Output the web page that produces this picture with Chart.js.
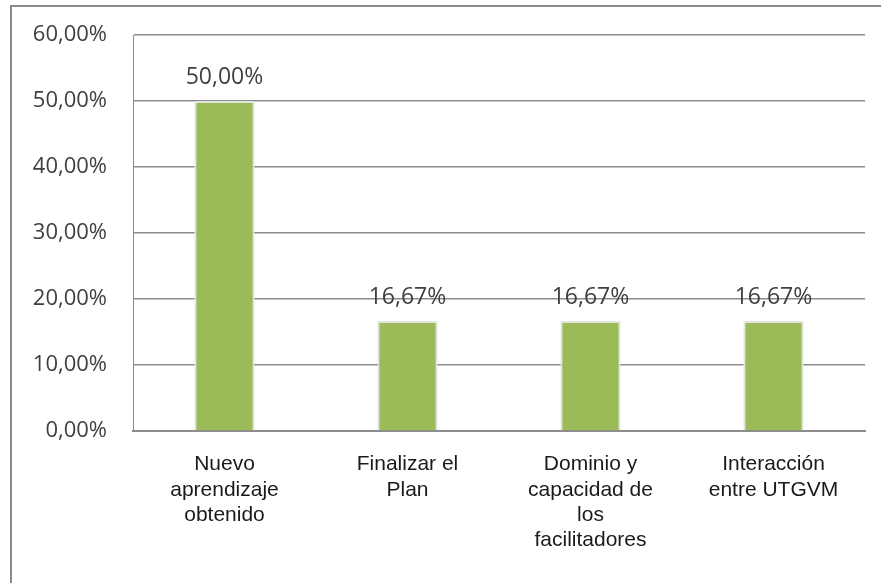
<!DOCTYPE html>
<html>
<head>
<meta charset="utf-8">
<script src="https://cdn.jsdelivr.net/npm/chart.js@4.4.0/dist/chart.umd.min.js"></script>
<style>
  html, body { margin: 0; padding: 0; background: #fff; }
  #wrap { width: 881px; height: 583px; }
</style>
</head>
<body>
<div id="wrap"><canvas id="grafico" width="881" height="583"></canvas></div>
<script>
const categorias = [
  ["Nuevo", "aprendizaje", "obtenido"],
  ["Finalizar el", "Plan"],
  ["Dominio y", "capacidad de", "los", "facilitadores"],
  ["Interacción", "entre UTGVM"]
]
const valores = [50.00, 16.67, 16.67, 16.67]
const ejeMin = 0
const ejeMax = 60
const ejePaso = 10

const formato = (v) => v.toFixed(2).replace(".", ",") + "%"

// marco gris alrededor del grafico
const marco = {
  id: "marco",
  beforeDraw(chart) {
    const ctx = chart.ctx
    ctx.save()
    ctx.fillStyle = "#fff"
    ctx.fillRect(0, 0, chart.width, chart.height)
    ctx.strokeStyle = "#8a8a8a"
    ctx.lineWidth = 2
    ctx.strokeRect(11, 6, chart.width + 20, chart.height + 20)
    ctx.restore()
  }
}

// etiquetas de valor encima de cada barra
const etiquetas = {
  id: "etiquetas",
  afterDatasetsDraw(chart) {
    const ctx = chart.ctx
    const meta = chart.getDatasetMeta(0)
    ctx.save()
    ctx.font = "23px 'Open Sans'"
    ctx.fillStyle = "#404040"
    ctx.textAlign = "center"
    ctx.textBaseline = "middle"
    meta.data.forEach((barra, i) => {
      ctx.fillText(formato(valores[i]), barra.x, barra.y - 24)
    })
    ctx.restore()
  }
}

const grafico = new Chart(document.getElementById("grafico"), {
  type: "bar",
  data: {
    labels: categorias,
    datasets: [{
      data: valores,
      backgroundColor: "#9bbb59",
      borderColor: "#e2e6dc",
      borderWidth: 2,
      categoryPercentage: 1,
      barPercentage: 0.33
    }]
  },
  options: {
    responsive: false,
    animation: false,
    layout: { padding: { top: 35, right: 16, left: 0, bottom: 0 } },
    plugins: {
      legend: { display: false },
      tooltip: { enabled: false }
    },
    scales: {
      x: {
        grid: { display: false, drawTicks: false },
        border: { display: true, color: "#8c8c8c", width: 2 },
        ticks: {
          padding: 21,
          maxRotation: 0,
          autoSkip: false,
          color: "#1a1a1a",
          font: { family: "'Liberation Sans', Arial", size: 21, lineHeight: 1.2 }
        },
        afterFit: (eje) => { eje.height = 152 }
      },
      y: {
        min: ejeMin,
        max: ejeMax,
        grid: { color: "#8c8c8c", lineWidth: 1.5, drawTicks: false },
        border: { display: true, color: "#8c8c8c", width: 1 },
        ticks: {
          stepSize: ejePaso,
          padding: 26,
          color: "#404040",
          font: { family: "'Open Sans'", size: 22 },
          callback: (v) => formato(v)
        },
        afterFit: (eje) => {
          eje.width = 133
          eje.paddingTop = 0
          eje.paddingBottom = 0
        }
      }
    }
  },
  plugins: [marco, etiquetas]
})
</script>
</body>
</html>
